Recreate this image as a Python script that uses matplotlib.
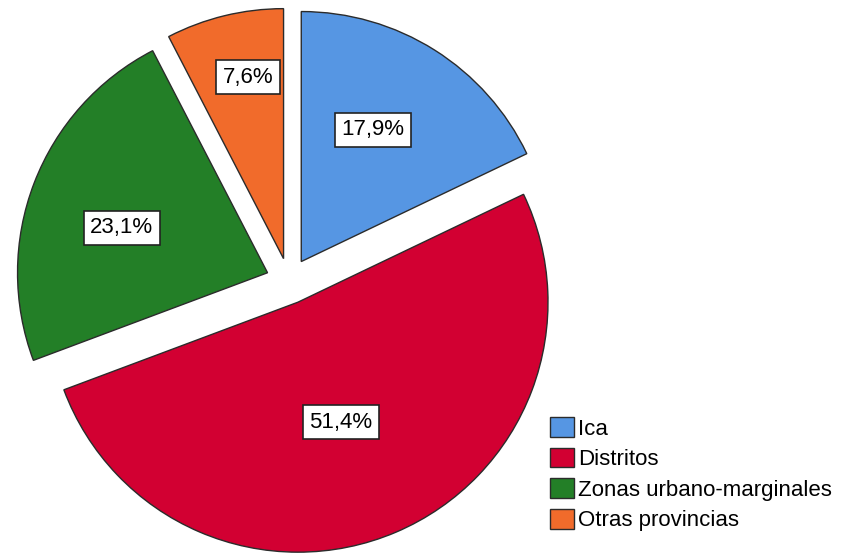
import numpy as np
import matplotlib.pyplot as plt

# pie of origin categories
labels = ['Ica', 'Distritos', 'Zonas urbano-marginales', 'Otras provincias']
values = [17.9, 51.4, 23.1, 7.6]
pct_text = ['17,9%', '51,4%', '23,1%', '7,6%']
colors = ['#5696e3', '#d20032', '#237f27', '#f16b2b']

# label placement relative to each (exploded) wedge centre: distance, angle shift (deg)
label_dist = [0.60, 0.51, 0.61, 0.74]
label_shift = [3.6, -3.4, 4.0, -2.7]

plt.rcParams['font.family'] = ['Liberation Sans', 'DejaVu Sans']

fig = plt.figure(figsize=(8.48, 5.56), dpi=100)
ax = fig.add_axes([0, 0, 1, 1])

wedges, _ = ax.pie(values, colors=colors, startangle=90, counterclock=False,
                   explode=[0.092] * 4, radius=1.0,
                   wedgeprops=dict(edgecolor='#2b2b2b', linewidth=1.0))

for w, txt, d, s in zip(wedges, pct_text, label_dist, label_shift):
    mid = np.deg2rad((w.theta1 + w.theta2) / 2 + s)
    cx, cy = w.center
    ax.text(cx + d * np.cos(mid), cy + d * np.sin(mid), txt,
            ha='center', va='center', fontsize=16,
            bbox=dict(boxstyle='square,pad=0.3', fc='white', ec='#222222', lw=1.2))

ax.set_xlim(-1.156, 2.236)
ax.set_ylim(-1.1, 1.124)
ax.set_aspect('equal')
ax.axis('off')

leg = fig.legend(wedges, labels, loc='upper left', bbox_to_anchor=(0.649, 0.25),
                 frameon=False, fontsize=16, borderpad=0, labelspacing=0.36,
                 handlelength=1.05, handleheight=1.0, handletextpad=0.2,
                 borderaxespad=0)

fig.savefig('out.png', dpi=100)
